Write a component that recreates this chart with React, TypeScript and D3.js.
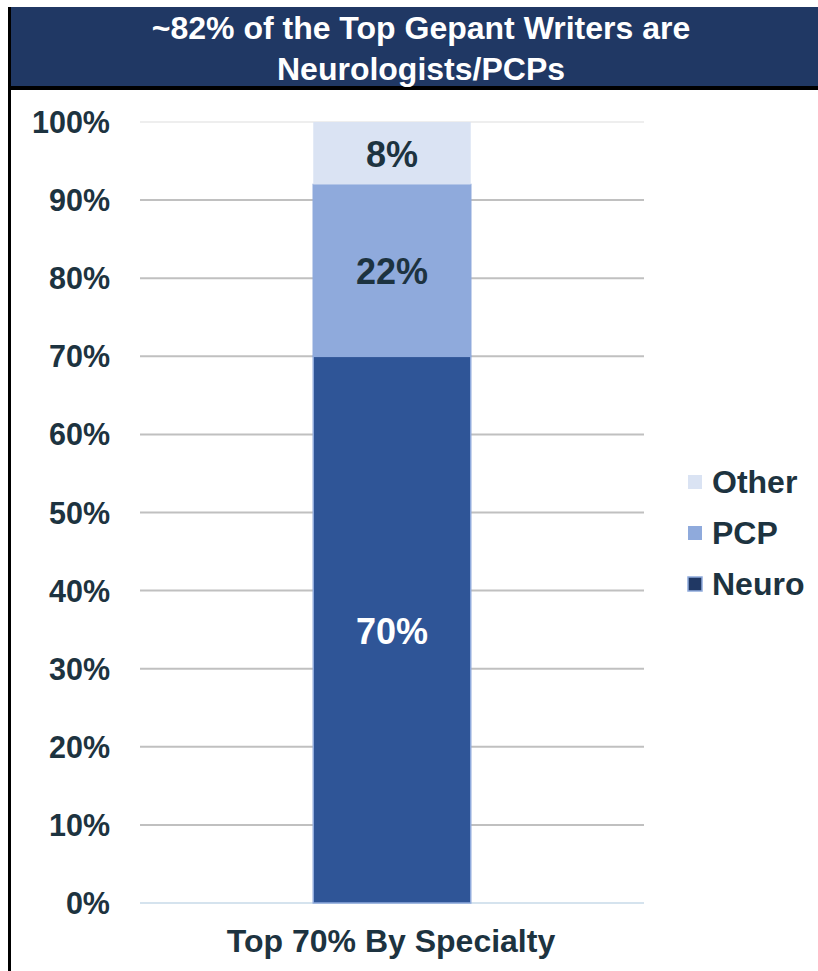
import React, { useEffect, useRef } from 'react';
import * as d3 from 'd3';

const titleLines = ['~82% of the Top Gepant Writers are', 'Neurologists/PCPs'];
const category = 'Top 70% By Specialty';
const series = ['Neuro', 'PCP', 'Other'];
const values = [70, 22, 8];
const colors = ['#2f5597', '#8faadc', '#dae3f3'];
const labelColors = ['#ffffff', '#1d3340', '#1d3340'];
const ticks = [0, 10, 20, 30, 40, 50, 60, 70, 80, 90, 100];
const legendOrder = ['Other', 'PCP', 'Neuro'];
const legendColors = ['#dae3f3', '#8faadc', '#203864'];

const W = 818;
const H = 971;
const FONT = 'Liberation Sans, Arial, sans-serif';
const TEXT = '#1d3340';

const App: React.FC = () => {
  const svgRef = useRef<SVGSVGElement>(null);

  useEffect(() => {
    if (!svgRef.current) return;
    const svg = d3.select(svgRef.current);
    svg.selectAll('*').remove();

    const margin = { top: 122, right: 174, bottom: 68, left: 140 };

    // Header band
    svg.append('rect').attr('x', 8).attr('y', 7).attr('width', W - 8).attr('height', 80).attr('fill', '#203864');
    svg.append('rect').attr('x', 8).attr('y', 86).attr('width', W - 8).attr('height', 4).attr('fill', '#000');
    svg.append('rect').attr('x', 8).attr('y', 7).attr('width', 3).attr('height', H - 7).attr('fill', '#000');

    svg.selectAll('text.title')
      .data(titleLines)
      .enter()
      .append('text')
      .attr('class', 'title')
      .attr('x', 421)
      .attr('y', (_d, i) => 39 + i * 41)
      .attr('text-anchor', 'middle')
      .attr('fill', '#fff')
      .attr('font-family', FONT)
      .attr('font-weight', 'bold')
      .attr('font-size', '32px')
      .text((d) => d);

    const x = d3.scaleBand<string>()
      .domain([category])
      .range([margin.left, W - margin.right])
      .paddingInner(0)
      .paddingOuter(1.1);

    const y = d3.scaleLinear()
      .domain([0, 100])
      .range([H - margin.bottom, margin.top]);

    // Grid lines
    svg.append('g')
      .selectAll('line')
      .data(ticks)
      .enter()
      .append('line')
      .attr('x1', margin.left)
      .attr('x2', W - margin.right)
      .attr('y1', (d) => y(d))
      .attr('y2', (d) => y(d))
      .attr('stroke', (d) => (d === 0 ? '#d5e3ee' : d === 100 ? '#eeeeee' : '#c0c0c0'))
      .attr('stroke-width', 2);

    // Tick labels
    svg.append('g')
      .selectAll('text')
      .data(ticks)
      .enter()
      .append('text')
      .attr('x', 110)
      .attr('y', (d) => y(d) + 11)
      .attr('text-anchor', 'end')
      .attr('fill', TEXT)
      .attr('font-family', FONT)
      .attr('font-weight', 'bold')
      .attr('font-size', '30.5px')
      .text((d) => `${d}%`);

    // Stacked segments
    const stackData = values.map((v, i) => {
      const start = d3.sum(values.slice(0, i));
      return { name: series[i], value: v, y0: start, y1: start + v, color: colors[i], label: labelColors[i] };
    });

    const bx = x(category) as number;
    const bw = x.bandwidth();

    svg.append('g')
      .selectAll('rect')
      .data(stackData)
      .enter()
      .append('rect')
      .attr('x', bx)
      .attr('y', (d) => y(d.y1))
      .attr('width', bw)
      .attr('height', (d) => y(d.y0) - y(d.y1))
      .attr('fill', (d) => d.color)
      .attr('stroke', (d) => (d.name === 'Other' ? 'none' : '#8faadc'))
      .attr('stroke-width', 1.5);

    svg.append('g')
      .selectAll('text')
      .data(stackData)
      .enter()
      .append('text')
      .attr('x', bx + bw / 2)
      .attr('y', (d) => y((d.y0 + d.y1) / 2) + 14)
      .attr('text-anchor', 'middle')
      .attr('fill', (d) => d.label)
      .attr('font-family', FONT)
      .attr('font-weight', 'bold')
      .attr('font-size', '36px')
      .text((d) => `${d.value}%`);

    // Category label
    svg.append('text')
      .attr('x', bx + bw / 2 - 1)
      .attr('y', 952)
      .attr('text-anchor', 'middle')
      .attr('fill', TEXT)
      .attr('font-family', FONT)
      .attr('font-weight', 'bold')
      .attr('font-size', '32px')
      .text(category);

    // Legend
    const lg = svg.append('g').attr('transform', 'translate(688,475)');
    legendOrder.forEach((name, i) => {
      const row = lg.append('g').attr('transform', `translate(0,${i * 51})`);
      row.append('rect')
        .attr('x', 0)
        .attr('y', 0)
        .attr('width', 14)
        .attr('height', 14)
        .attr('fill', legendColors[i])
        .attr('stroke', name === 'Neuro' ? '#8faadc' : 'none')
        .attr('stroke-width', 1.5);
      row.append('text')
        .attr('x', 24)
        .attr('y', 18)
        .attr('fill', TEXT)
        .attr('font-family', FONT)
        .attr('font-weight', 'bold')
        .attr('font-size', '32px')
        .text(name);
    });
  }, []);

  return (
    <svg
      ref={svgRef}
      width={W}
      height={H}
      style={{ position: 'absolute', left: 0, top: 0, display: 'block', background: '#fff' }}
    />
  );
};

export default App;
